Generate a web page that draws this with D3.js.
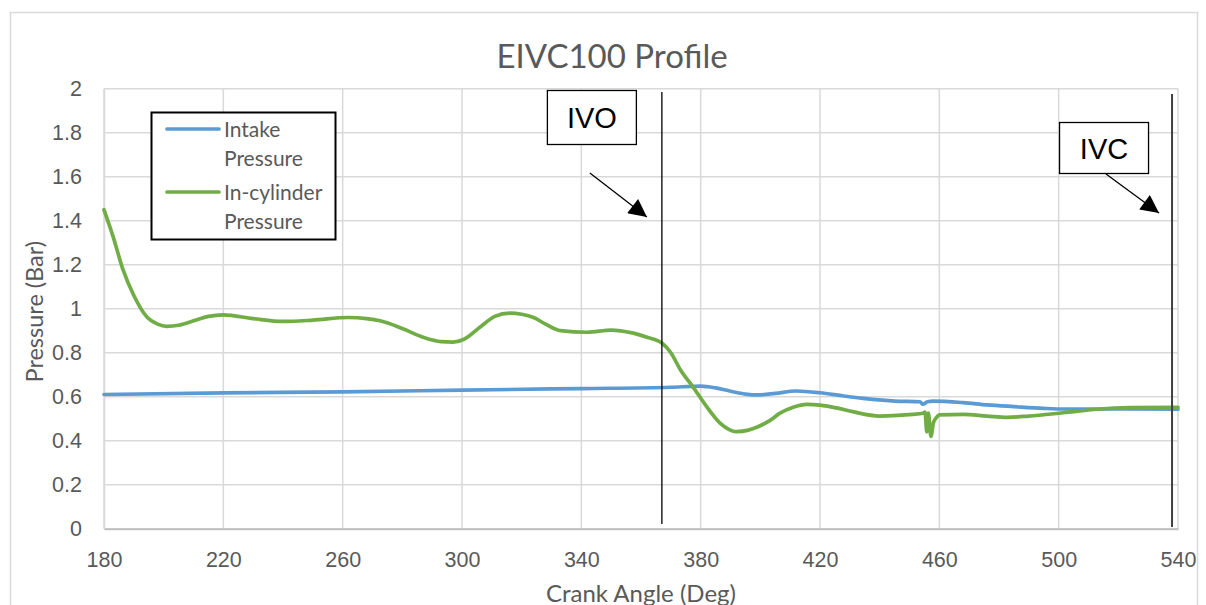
<!DOCTYPE html>
<html>
<head>
  <meta charset="UTF-8">
  <title>EIVC100 Profile</title>
  <script src="https://d3js.org/d3.v7.min.js"></script>
  <style>
    body {
      margin: 0;
      background: #fff;
      font-family: Lato, "Open Sans", sans-serif;
    }
    .grid line {
      stroke: #d9d9d9;
      stroke-width: 1.5;
    }
    .tick-label {
      fill: #595959;
      font-size: 21.5px;
    }
    .note {
      font-family: "Liberation Sans", Arial, sans-serif;
      font-size: 29px;
      fill: #000;
    }
  </style>
</head>
<body>
  <div id="chart"></div>
  <script>
    // intake pressure (bar) vs crank angle (deg)
    const intakeAngle = [180, 220, 260, 300, 340, 370, 380, 385, 390, 395, 399, 405, 412, 420, 428, 436, 445, 453.5, 454.5, 456, 458, 468, 476, 485, 495, 502, 520, 540];
    const intakePressure = [0.61, 0.617, 0.622, 0.63, 0.637, 0.643, 0.648, 0.64, 0.625, 0.612, 0.608, 0.615, 0.626, 0.618, 0.603, 0.59, 0.58, 0.577, 0.566, 0.577, 0.58, 0.573, 0.563, 0.555, 0.547, 0.544, 0.544, 0.543];

    // in-cylinder pressure (bar) vs crank angle (deg)
    const cylAngle = [180, 183, 186.4, 190, 194.4, 198, 201, 205, 210, 215, 220, 230, 240, 250, 262, 268, 272.5, 280, 287, 293, 297, 300.5, 306, 311, 316, 320, 324, 328, 333, 342, 350, 357, 362, 367, 370, 373.3, 377.4, 382, 386.5, 389, 392, 396, 399, 403, 406.6, 411, 415.6, 420, 426, 431, 440, 446, 451, 454.5, 455.2, 455.8, 456.3, 457.2, 458, 459, 460, 468, 476, 482.7, 490, 501.5, 513, 524, 540];
    const cylPressure = [1.45, 1.33, 1.176, 1.06, 0.962, 0.93, 0.92, 0.925, 0.945, 0.965, 0.972, 0.955, 0.942, 0.948, 0.96, 0.955, 0.945, 0.91, 0.87, 0.85, 0.848, 0.86, 0.916, 0.965, 0.98, 0.975, 0.96, 0.93, 0.9, 0.893, 0.903, 0.89, 0.87, 0.844, 0.8, 0.72, 0.645, 0.555, 0.48, 0.455, 0.441, 0.448, 0.462, 0.49, 0.525, 0.552, 0.565, 0.562, 0.548, 0.532, 0.512, 0.515, 0.52, 0.525, 0.53, 0.44, 0.525, 0.42, 0.48, 0.505, 0.517, 0.52, 0.512, 0.506, 0.512, 0.527, 0.543, 0.55, 0.552];

    const seriesNames = ["Intake Pressure", "In-cylinder Pressure"];
    const legendLines = [["Intake", "Pressure"], ["In-cylinder", "Pressure"]];
    const seriesColors = ["#5b9bd5", "#70ad47"];

    const eventNames = ["IVO", "IVC"];
    const eventAngles = [367, 538];

    const xTicks = [180, 220, 260, 300, 340, 380, 420, 460, 500, 540];
    const yTicks = [0, 0.2, 0.4, 0.6, 0.8, 1, 1.2, 1.4, 1.6, 1.8, 2];

    const W = 1206, H = 605;
    const plot = { left: 104, right: 1178, top: 88.7, bottom: 528.7 };

    const svg = d3.select("#chart").append("svg")
      .attr("width", W)
      .attr("height", H);

    // chart area border
    svg.append("rect")
      .attr("x", 10.5).attr("y", 12.5)
      .attr("width", 1187).attr("height", 620)
      .attr("fill", "#fff")
      .attr("stroke", "#d9d9d9")
      .attr("stroke-width", 1.5);

    const x = d3.scaleLinear().domain([180, 540]).range([plot.left, plot.right]);
    const y = d3.scaleLinear().domain([0, 2]).range([plot.bottom, plot.top]);

    // gridlines
    svg.append("g").attr("class", "grid")
      .selectAll("line").data(yTicks).enter().append("line")
      .attr("x1", plot.left).attr("x2", plot.right)
      .attr("y1", d => y(d)).attr("y2", d => y(d));
    svg.append("g").attr("class", "grid")
      .selectAll("line").data(xTicks).enter().append("line")
      .attr("x1", d => x(d)).attr("x2", d => x(d))
      .attr("y1", plot.top).attr("y2", plot.bottom);

    // axes
    const xAxis = svg.append("g")
      .attr("transform", `translate(0,${plot.bottom})`)
      .call(d3.axisBottom(x).tickValues(xTicks).tickSize(0).tickPadding(23));
    xAxis.select(".domain").attr("stroke", "#bfbfbf").attr("stroke-width", 2);
    xAxis.selectAll("text").attr("class", "tick-label").attr("font-family", null).attr("font-size", null);

    const yAxis = svg.append("g")
      .attr("transform", `translate(${plot.left},0)`)
      .call(d3.axisLeft(y).tickValues(yTicks).tickSize(0).tickPadding(22).tickFormat(d3.format("~g")));
    yAxis.select(".domain").attr("stroke", "#d9d9d9").attr("stroke-width", 1.5);
    yAxis.selectAll("text").attr("class", "tick-label").attr("font-family", null).attr("font-size", null);

    // title and axis titles
    svg.append("text")
      .attr("x", (plot.left + plot.right) / 2 - 29).attr("y", 68)
      .attr("text-anchor", "middle")
      .attr("fill", "#595959")
      .attr("font-size", 33)
      .text("EIVC100 Profile");

    svg.append("text")
      .attr("transform", `translate(43,${(plot.top + plot.bottom) / 2 + 3}) rotate(-90)`)
      .attr("text-anchor", "middle")
      .attr("fill", "#595959")
      .attr("font-size", 23.5)
      .text("Pressure (Bar)");

    svg.append("text")
      .attr("x", (plot.left + plot.right) / 2).attr("y", 602)
      .attr("text-anchor", "middle")
      .attr("fill", "#595959")
      .attr("font-size", 24)
      .text("Crank Angle (Deg)");

    // series
    const series = [
      d3.zip(intakeAngle, intakePressure),
      d3.zip(cylAngle, cylPressure)
    ];
    const line = d3.line()
      .x(d => x(d[0]))
      .y(d => y(d[1]))
      .curve(d3.curveMonotoneX);

    svg.append("g").selectAll("path")
      .data(series).enter().append("path")
      .attr("d", line)
      .attr("fill", "none")
      .attr("stroke", (d, i) => seriesColors[i])
      .attr("stroke-width", 3.7)
      .attr("stroke-linejoin", "round")
      .attr("stroke-linecap", "round");

    // event lines
    svg.append("g").selectAll("line")
      .data(eventAngles).enter().append("line")
      .attr("x1", d => x(d)).attr("x2", d => x(d))
      .attr("y1", (d, i) => i === 0 ? 92 : 94)
      .attr("y2", (d, i) => i === 0 ? 524 : 527)
      .attr("stroke", (d, i) => i === 0 ? "#000" : "#404040")
      .attr("stroke-width", (d, i) => i === 0 ? 1.3 : 2);

    // annotation boxes + arrows, placed relative to each event line
    const defs = svg.append("defs");
    defs.append("marker")
      .attr("id", "arrow")
      .attr("viewBox", "0 0 10 10")
      .attr("refX", 10).attr("refY", 5)
      .attr("markerWidth", 20).attr("markerHeight", 18)
      .attr("markerUnits", "userSpaceOnUse")
      .attr("orient", "auto")
      .append("path").attr("d", "M0,0 L10,5 L0,10 z").attr("fill", "#000");

    const boxOffsets = [{ dx: -115, top: 90, arrowFrom: [-72, 173], arrowTo: [-15, 217] },
                        { dx: -113, top: 122, arrowFrom: [-66, 174], arrowTo: [-13, 213] }];

    eventNames.forEach((name, i) => {
      const ex = x(eventAngles[i]);
      const o = boxOffsets[i];
      const g = svg.append("g");
      g.append("rect")
        .attr("x", ex + o.dx + 0.5).attr("y", o.top + 0.5)
        .attr("width", 89).attr("height", i === 0 ? 54 : 51)
        .attr("fill", "#fff")
        .attr("stroke", "#000")
        .attr("stroke-width", 1.3);
      g.append("text")
        .attr("class", "note")
        .attr("x", ex + o.dx + 45).attr("y", o.top + (i === 0 ? 38 : 37))
        .attr("text-anchor", "middle")
        .text(name);
      g.append("line")
        .attr("x1", ex + o.arrowFrom[0]).attr("y1", o.arrowFrom[1])
        .attr("x2", ex + o.arrowTo[0]).attr("y2", o.arrowTo[1])
        .attr("stroke", "#000")
        .attr("stroke-width", 1.3)
        .attr("marker-end", "url(#arrow)");
    });

    // legend
    const legend = svg.append("g").attr("transform", "translate(151,112)");
    legend.append("rect")
      .attr("x", 0.5).attr("y", 0.5)
      .attr("width", 184).attr("height", 127)
      .attr("fill", "#fff")
      .attr("stroke", "#000")
      .attr("stroke-width", 2);
    seriesNames.forEach((name, i) => {
      const row = legend.append("g").attr("transform", `translate(0,${17 + i * 63})`);
      row.append("line")
        .attr("x1", 16).attr("x2", 68)
        .attr("stroke", seriesColors[i])
        .attr("stroke-width", 3.7)
        .attr("stroke-linecap", "round");
      legendLines[i].forEach((t, j) => {
        row.append("text")
          .attr("x", 73).attr("y", 7.5 + j * 29)
          .attr("fill", "#595959")
          .attr("font-size", 21)
          .text(t);
      });
    });
  </script>
</body>
</html>
